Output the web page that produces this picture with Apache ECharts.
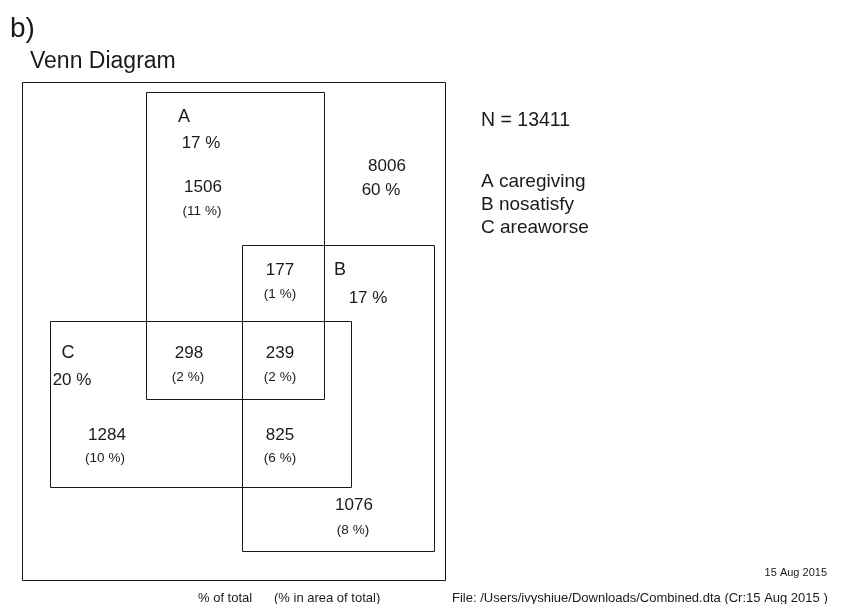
<!DOCTYPE html>
<html>
<head>
<meta charset="utf-8">
<script src="https://cdn.jsdelivr.net/npm/echarts@6/dist/echarts.min.js"></script>
<style>
html,body{margin:0;padding:0;background:#fff;}
#chart{width:843px;height:604px;}
</style>
</head>
<body>
<div id="chart"></div>
<script>
// ---- data ----
var setKeys = ['A', 'B', 'C'];
var setNames = ['caregiving', 'nosatisfy', 'areaworse'];
var setPercents = [17, 17, 20];
var regionNames = ['A only', 'A&B', 'A&C', 'A&B&C', 'C only', 'B&C', 'B only', 'none'];
var regionCounts = [1506, 177, 298, 239, 1284, 825, 1076, 8006];
var regionPercents = [11, 1, 2, 2, 10, 6, 8, 60];
var totalN = 13411;

// ---- layout (diagram units, origin at top-left of the outer frame) ----
var frame = [0, 0, 423, 497.5];
var setBoxes = [
  [123.5, 10, 301.5, 316.5],   // A
  [219.5, 163, 411, 468.5],    // B
  [28, 239.5, 329, 405.5]      // C
];
var setLabelPos = [[162, 35.5], [318, 188.5], [46, 271.5]];
var setPctPos = [[179, 61.5], [346, 216.5], [50, 298.5]];
var regionPos = [
  [181, 105.5], [258, 188.5], [167, 271.5], [258, 271.5],
  [85, 353.5], [258, 353.5], [332, 423.5], [365, 84.5]
];
var regionPctPos = [
  [180, 129.5], [258, 212.5], [166, 295.5], [258, 295.5],
  [83, 376.5], [258, 376.5], [331, 448.5], [359, 108.5]
];

var FONT = '"Liberation Sans", Arial, Helvetica, sans-serif';
var INK = '#1a1a1a';

var boxData = [frame].concat(setBoxes);

var textData = [];
setKeys.forEach(function (k, i) {
  textData.push({ value: setLabelPos[i].concat([0]), txt: k, size: 18 });
  textData.push({ value: setPctPos[i].concat([0]), txt: setPercents[i] + ' %', size: 17 });
});
regionCounts.forEach(function (c, i) {
  var isNone = i === regionCounts.length - 1;
  textData.push({ value: regionPos[i].concat([0]), txt: String(c), size: 17 });
  textData.push({ value: regionPctPos[i].concat([0]), txt: isNone ? (regionPercents[i] + ' %') : ('(' + regionPercents[i] + ' %)'), size: isNone ? 17 : 13.5 });
});

var chart = echarts.init(document.getElementById('chart'), null, { renderer: 'canvas' });
chart.setOption({
  backgroundColor: '#fff',
  animation: false,
  grid: { left: 22, top: 81.5, width: 423, height: 497.5 },
  xAxis: { type: 'value', min: 0, max: 423, show: false },
  yAxis: { type: 'value', min: 0, max: 497.5, inverse: true, show: false },
  graphic: [
    { type: 'text', left: 10, top: 15, style: { text: 'b)', font: '28px ' + FONT, fill: INK } },
    { type: 'text', left: 30, top: 50, style: { text: 'Venn Diagram', font: '23px ' + FONT, fill: INK } },
    { type: 'text', left: 481, top: 111, style: { text: 'N = ' + totalN, font: '19.5px ' + FONT, fill: INK } },
    { type: 'text', left: 481, top: 170, style: { text: setKeys.map(function (k, i) { return k + ' ' + setNames[i]; }).join('\n'), font: '19px ' + FONT, fill: INK, lineHeight: 23 } },
    { type: 'text', right: 16, top: 567, style: { text: '15 Aug 2015', font: '11px ' + FONT, fill: INK } },
    { type: 'text', left: 198, top: 592, style: { text: '% of total', font: '13px ' + FONT, fill: INK } },
    { type: 'text', left: 274, top: 592, style: { text: '(% in area of total)', font: '13px ' + FONT, fill: INK } },
    { type: 'text', left: 452, top: 592, style: { text: 'File: /Users/ivyshiue/Downloads/Combined.dta (Cr:15 Aug 2015 )', font: '13px ' + FONT, fill: INK } }
  ],
  series: [
    {
      type: 'custom',
      coordinateSystem: 'cartesian2d',
      data: boxData,
      encode: { x: [0, 2], y: [1, 3] },
      renderItem: function (params, api) {
        var p0 = api.coord([api.value(0), api.value(1)]);
        var p1 = api.coord([api.value(2), api.value(3)]);
        return {
          type: 'rect',
          shape: { x: Math.round(p0[0]) + 0.5, y: Math.round(p0[1]) + 0.5, width: Math.round(p1[0] - p0[0]), height: Math.round(p1[1] - p0[1]) },
          style: { fill: null, stroke: INK, lineWidth: 1 }
        };
      }
    },
    {
      type: 'custom',
      coordinateSystem: 'cartesian2d',
      data: textData,
      renderItem: function (params, api) {
        var d = textData[params.dataIndex];
        var p = api.coord([api.value(0), api.value(1)]);
        return {
          type: 'text',
          x: p[0], y: p[1],
          style: { text: d.txt, font: d.size + 'px ' + FONT, fill: INK, align: 'center', verticalAlign: 'middle' }
        };
      }
    }
  ]
});
</script>
</body>
</html>
